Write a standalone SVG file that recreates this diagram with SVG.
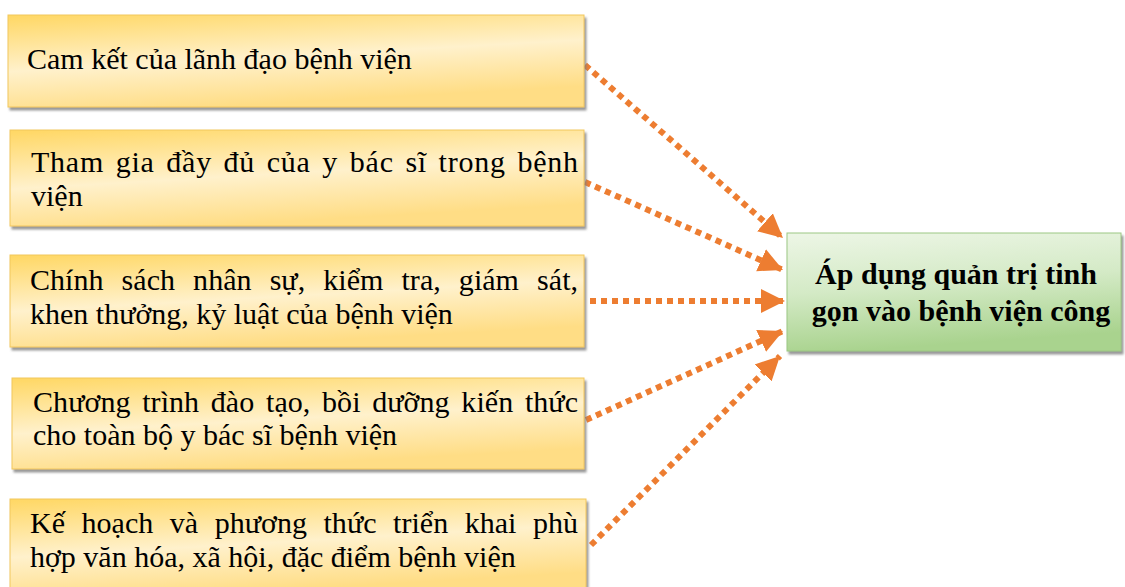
<svg xmlns="http://www.w3.org/2000/svg" width="1125" height="587" viewBox="0 0 1125 587">
  <defs>
    <linearGradient id="gold" x1="0" y1="0" x2="0.35" y2="1">
      <stop offset="0" stop-color="#FFD763"/>
      <stop offset="0.55" stop-color="#FFF1CC"/>
      <stop offset="1" stop-color="#FFDD85"/>
    </linearGradient>
    <linearGradient id="green" x1="0" y1="0" x2="0.2" y2="1">
      <stop offset="0" stop-color="#EDF6E6"/>
      <stop offset="0.5" stop-color="#D4EAC6"/>
      <stop offset="1" stop-color="#A9D38E"/>
    </linearGradient>
    <filter id="shadow" x="-5%" y="-5%" width="110%" height="120%">
      <feDropShadow dx="2" dy="3" stdDeviation="1" flood-color="#7F7F7F" flood-opacity="0.8"/>
    </filter>
    <marker id="arrow" markerUnits="userSpaceOnUse" markerWidth="26" markerHeight="26" viewBox="0 0 26 26" refX="24" refY="13" orient="auto">
      <path d="M0,1 L24,13 L0,25 Z" fill="#ED7D31"/>
    </marker>
  </defs>
  <style>
    .box { fill: url(#gold); stroke: #F2C75C; stroke-width: 1; filter: url(#shadow); }
    .goal { fill: url(#green); stroke: #9CC783; stroke-width: 1; filter: url(#shadow); }
    text { font-family: "Liberation Serif", "Times New Roman", "DejaVu Serif", serif; font-size: 30px; fill: #000; }
    .tb { font-weight: bold; text-anchor: middle; }
    .link { fill: none; stroke: #ED7D31; stroke-width: 6; stroke-dasharray: 6 5; marker-end: url(#arrow); }
  </style>

  <rect width="1125" height="587" fill="#FFFFFF"/>

  <g id="connectors">
    <path class="link" d="M585,65 L783,238"/>
    <path class="link" d="M585,182 L783,270"/>
    <path class="link" d="M590,301 L785,301"/>
    <path class="link" d="M586,420 L783,331"/>
    <path class="link" d="M591,545 L780,356"/>
  </g>

  <g id="n1">
    <rect class="box" x="8" y="15" width="576" height="92"/>
    <text x="27" y="69">Cam kết của lãnh đạo bệnh viện</text>
  </g>

  <g id="n2">
    <rect class="box" x="10" y="130" width="574" height="96"/>
    <text x="31" y="172" word-spacing="3.4" textLength="547" lengthAdjust="spacing">Tham gia đầy đủ của y bác sĩ trong bệnh</text>
    <text x="31" y="206">viện</text>
  </g>

  <g id="n3">
    <rect class="box" x="10" y="255" width="574" height="92"/>
    <text x="30" y="290" word-spacing="10.6" textLength="548" lengthAdjust="spacing">Chính sách nhân sự, kiểm tra, giám sát,</text>
    <text x="30" y="324">khen thưởng, kỷ luật của bệnh viện</text>
  </g>

  <g id="n4">
    <rect class="box" x="12" y="378" width="572" height="91"/>
    <text x="33" y="412" word-spacing="4.1" textLength="545" lengthAdjust="spacing">Chương trình đào tạo, bồi dưỡng kiến thức</text>
    <text x="33" y="445">cho toàn bộ y bác sĩ bệnh viện</text>
  </g>

  <g id="n5">
    <rect class="box" x="10" y="499" width="576" height="95"/>
    <text x="30" y="533" word-spacing="8.9" textLength="548" lengthAdjust="spacing">Kế hoạch và phương thức triển khai phù</text>
    <text x="30" y="567">hợp văn hóa, xã hội, đặc điểm bệnh viện</text>
  </g>

  <g id="goal">
    <rect class="goal" x="787" y="233" width="334" height="118"/>
    <text class="tb" x="956" y="284">Áp dụng quản trị tinh</text>
    <text class="tb" x="961" y="321">gọn vào bệnh viện công</text>
  </g>
</svg>
